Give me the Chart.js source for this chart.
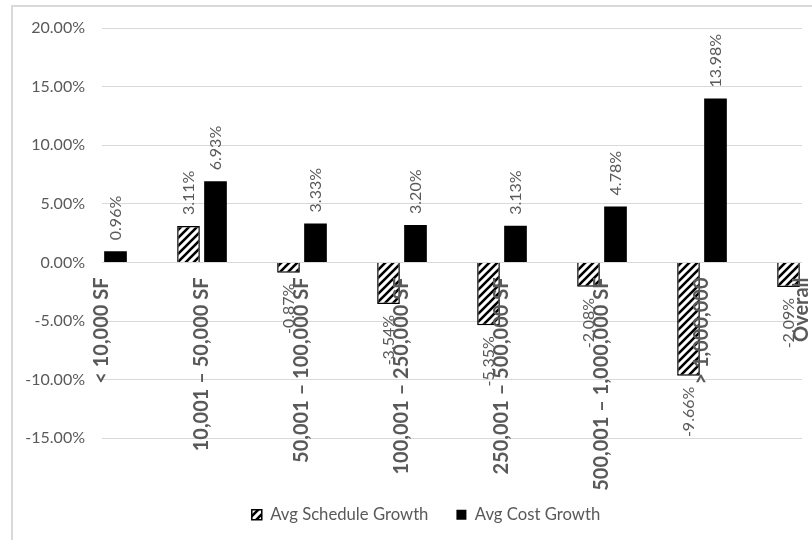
<!DOCTYPE html>
<html><head><meta charset="utf-8">
<script src="https://cdn.jsdelivr.net/npm/chart.js@4/dist/chart.umd.min.js"></script>
<style>
html,body{margin:0;padding:0;background:#fff;overflow:hidden;}
#wrap{position:relative;width:812px;height:540px;overflow:hidden;}
#frame{position:absolute;left:11px;top:5px;width:900px;height:700px;border:2px solid #d9d9d9;}
canvas{position:absolute;left:0;top:0;}
</style></head><body>
<div id="wrap"><div id="frame"></div><canvas id="c" width="812" height="540"></canvas></div>
<script>
const categories = ["< 10,000 SF", "10,001 \u2013 50,000 SF", "50,001 \u2013 100,000 SF", "100,001 \u2013 250,000 SF", "250,001 \u2013 500,000 SF", "500,001 \u2013 1,000,000 SF", "> 1,000,000", "Overall"];
const scheduleGrowth = [null, 3.11, -0.87, -3.54, -5.35, -2.08, -9.66, -2.09];
const costGrowth = [0.96, 6.93, 3.33, 3.20, 3.13, 4.78, 13.98, null];
const seriesNames = ["Avg Schedule Growth", "Avg Cost Growth"];
const yMin = -15, yMax = 20, yStep = 5;

const canvas = document.getElementById('c');
const ctx = canvas.getContext('2d');

function makeHatch() {
  const p = document.createElement('canvas');
  p.width = 8; p.height = 8;
  const g = p.getContext('2d');
  g.fillStyle = '#fff'; g.fillRect(0, 0, 8, 8);
  g.strokeStyle = '#000'; g.lineWidth = 2.6; g.lineCap = 'square';
  g.beginPath();
  g.moveTo(-2, 10); g.lineTo(10, -2);
  g.moveTo(-2, 2); g.lineTo(2, -2);
  g.moveTo(6, 10); g.lineTo(10, 6);
  g.stroke();
  return ctx.createPattern(p, 'repeat');
}
const hatch = makeHatch();
const fmt = v => v.toFixed(2) + '%';

const valueLabels = {
  id: 'valueLabels',
  afterDatasetsDraw(chart) {
    const c = chart.ctx;
    chart.data.datasets.forEach((ds, i) => {
      const meta = chart.getDatasetMeta(i);
      meta.data.forEach((bar, j) => {
        const v = ds.data[j];
        if (v === null || v === undefined) return;
        c.save();
        c.translate(bar.x, bar.y);
        c.rotate(-Math.PI / 2);
        c.font = '16px Lato';
        c.fillStyle = '#595959';
        c.textBaseline = 'middle';
        if (v >= 0) { c.textAlign = 'left'; c.fillText(fmt(v), 11, 0); }
        else { c.textAlign = 'right'; c.fillText(fmt(v), -11, 0); }
        c.restore();
      });
    });
  }
};

// the legend is centred on the (wider) outer chart frame, so shift it right
const legendShift = {
  id: 'legendShift',
  afterLayout(chart) {
    if (chart.legend) { chart.legend.left += 25; chart.legend.right += 25; }
  }
};

new Chart(ctx, {
  type: 'bar',
  data: {
    labels: categories,
    datasets: [
      { label: seriesNames[0], data: scheduleGrowth, backgroundColor: hatch, borderColor: '#000', borderWidth: 1.5,
        categoryPercentage: 0.54, barPercentage: 0.84 },
      { label: seriesNames[1], data: costGrowth, backgroundColor: '#000', borderColor: '#000', borderWidth: 0,
        categoryPercentage: 0.54, barPercentage: 0.84 }
    ]
  },
  options: {
    responsive: false, animation: false, devicePixelRatio: 1,
    layout: { padding: { left: 0, right: 10, top: 28, bottom: 7 } },
    plugins: {
      legend: { position: 'bottom', maxHeight: 104,
        title: { display: true, text: '', font: { size: 10 }, padding: { top: 0, bottom: 28 } },
        labels: { font: { family: 'Lato', size: 16.7 }, color: '#595959', boxWidth: 10, boxHeight: 10, padding: 28 } },
      tooltip: { enabled: false }
    },
    scales: {
      x: {
        position: { y: 0 }, offset: false,
        grid: { display: false, drawTicks: false }, border: { display: false },
        ticks: { autoSkip: false, minRotation: 90, maxRotation: 90, padding: 15,
          font: { family: 'Lato', size: 20, weight: 'bold' }, color: '#595959', z: 1 },
        afterFit(s) { s.paddingLeft = 0; s.paddingRight = 0; }
      },
      y: {
        min: yMin, max: yMax,
        ticks: { stepSize: yStep, callback: v => fmt(v), font: { family: 'Lato', size: 16 }, color: '#595959', padding: 17 },
        grid: { color: '#d9d9d9', lineWidth: 1, drawTicks: false }, border: { display: false },
        afterFit(s) { s.width = 102; }
      }
    }
  },
  plugins: [valueLabels, legendShift]
});
</script>
</body></html>
